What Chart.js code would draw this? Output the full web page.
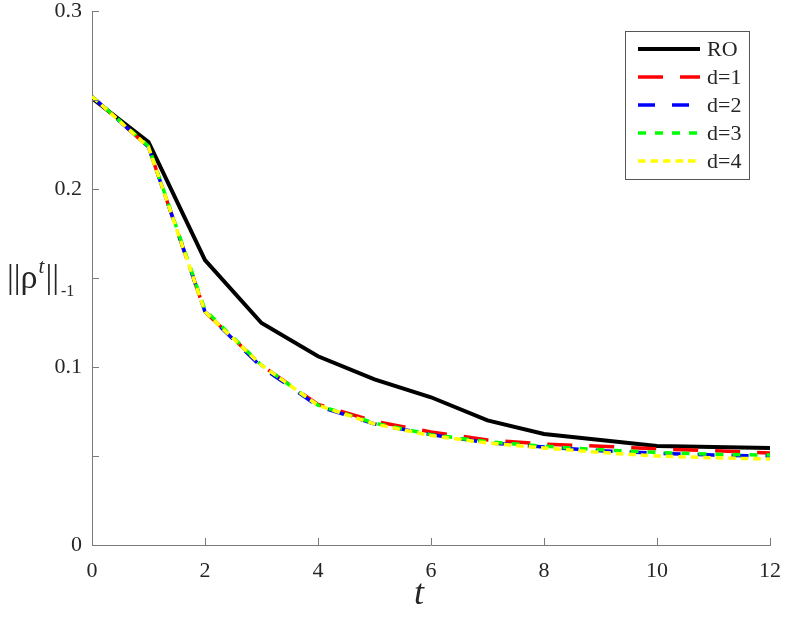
<!DOCTYPE html>
<html>
<head>
<meta charset="utf-8">
<script src="https://cdn.jsdelivr.net/npm/chart.js@4"></script>
<style>
  body { margin: 0; background: #fff; }
</style>
</head>
<body>
<canvas id="normChart" width="787" height="622"></canvas>
<script>
const steps = [0, 1, 2, 3, 4, 5, 6, 7, 8, 9, 10, 11, 12];
const seriesNames = ["RO", "d=1", "d=2", "d=3", "d=4"];
const roValues = [0.251, 0.2264, 0.160, 0.1247, 0.106, 0.093, 0.083, 0.070, 0.0624, 0.059, 0.0556, 0.055, 0.0545];
const d1Values = [0.252, 0.2236, 0.131, 0.101, 0.079, 0.0695, 0.0635, 0.059, 0.0567, 0.0555, 0.054, 0.053, 0.0517];
const d2Values = [0.252, 0.2236, 0.131, 0.100, 0.078, 0.068, 0.062, 0.0575, 0.055, 0.053, 0.0515, 0.0505, 0.050];
const d3Values = [0.252, 0.224, 0.132, 0.101, 0.0785, 0.0685, 0.062, 0.058, 0.0555, 0.0535, 0.052, 0.051, 0.0505];
const d4Values = [0.252, 0.2236, 0.131, 0.101, 0.0785, 0.068, 0.0615, 0.0573, 0.0545, 0.052, 0.050, 0.049, 0.0483];
const xTicks = [0, 2, 4, 6, 8, 10, 12];
const yTickLabels = [0, 0.1, 0.2, 0.3];

const colors = ["#000000", "#ff0000", "#0000ff", "#00ff00", "#ffff00"];
const dashes = [[], [25, 17], [17, 17], [8, 9], [7.5, 5]];
const allValues = [roValues, d1Values, d2Values, d3Values, d4Values];

const serif = "'Liberation Serif', 'Times New Roman', serif";
const textColor = "#262626";
const axisColor = "#7a7a7a";

const datasets = allValues.map((vals, i) => ({
  label: seriesNames[i],
  data: vals.map((v, k) => ({ x: steps[k], y: v })),
  borderColor: colors[i],
  borderDash: dashes[i],
  borderWidth: i === 0 ? 4 : 3.5,
  pointRadius: 0,
  fill: false,
  tension: 0,
  order: 4 - i,
}));

// inward ticks, axis titles and the boxed legend
const decorations = {
  id: "decorations",
  afterDatasetsDraw(chart) {
    const ctx = chart.ctx;
    const xs = chart.scales.x, ys = chart.scales.y;
    const area = chart.chartArea;
    ctx.save();
    ctx.strokeStyle = axisColor;
    ctx.lineWidth = 1;
    ys.ticks.forEach(t => {
      const py = Math.round(ys.getPixelForValue(t.value)) + 0.5;
      ctx.beginPath();
      ctx.moveTo(area.left, py);
      ctx.lineTo(area.left + 7, py);
      ctx.stroke();
    });
    xs.ticks.forEach(t => {
      const px = Math.round(xs.getPixelForValue(t.value)) + 0.5;
      ctx.beginPath();
      ctx.moveTo(px, area.bottom);
      ctx.lineTo(px, area.bottom - 7);
      ctx.stroke();
    });

    // x title
    ctx.fillStyle = textColor;
    ctx.textAlign = "center";
    ctx.textBaseline = "alphabetic";
    ctx.font = "italic 36px " + serif;
    ctx.fillText("t", 419, 604);

    // y title ||rho^t||_-1
    ctx.textAlign = "left";
    let x = 7;
    const base = 288;
    ctx.font = "34px " + serif;
    ctx.fillText("||ρ", x, base);
    x += ctx.measureText("||ρ").width;
    ctx.font = "italic 21px " + serif;
    ctx.fillText("t", x + 1, 273);
    x += ctx.measureText("t").width + 2;
    ctx.font = "34px " + serif;
    ctx.fillText("||", x, base);
    x += ctx.measureText("||").width + 2;
    ctx.font = "16px " + serif;
    ctx.fillText("-1", x, 296);

    // legend
    const box = { left: 625, top: 31, right: 749, bottom: 179 };
    ctx.fillStyle = "#fff";
    ctx.fillRect(box.left, box.top, box.right - box.left, box.bottom - box.top);
    ctx.strokeStyle = "#555";
    ctx.lineWidth = 1;
    ctx.strokeRect(box.left + 0.5, box.top + 0.5, box.right - box.left, box.bottom - box.top);
    chart.data.datasets.forEach((ds, i) => {
      const ry = 49 + i * 28;
      ctx.beginPath();
      ctx.setLineDash(ds.borderDash);
      ctx.strokeStyle = ds.borderColor;
      ctx.lineWidth = ds.borderWidth;
      ctx.moveTo(638, ry);
      ctx.lineTo(700, ry);
      ctx.stroke();
      ctx.setLineDash([]);
      ctx.fillStyle = textColor;
      ctx.font = "22px " + serif;
      ctx.textBaseline = "middle";
      ctx.fillText(ds.label, 707, ry + 1);
    });
    ctx.restore();
  },
};

new Chart(document.getElementById("normChart"), {
  type: "line",
  data: { datasets: datasets },
  options: {
    responsive: false,
    animation: false,
    devicePixelRatio: 1,
    layout: { padding: { top: 11, right: 17, left: 0, bottom: 0 } },
    plugins: {
      legend: { display: false },
      tooltip: { enabled: false },
    },
    scales: {
      x: {
        type: "linear",
        min: 0,
        max: 12,
        afterFit: s => { s.height = 77; s.paddingLeft = 0; s.paddingRight = 0; },
        afterBuildTicks: s => { s.ticks = xTicks.map(v => ({ value: v })); },
        grid: { drawOnChartArea: false, drawTicks: false },
        border: { display: true, color: axisColor, width: 1 },
        ticks: {
          padding: 13,
          color: textColor,
          font: { family: serif, size: 22 },
          maxRotation: 0,
          callback: v => String(v),
        },
      },
      y: {
        min: 0,
        max: 0.3,
        afterFit: s => { s.width = 92; s.paddingTop = 0; s.paddingBottom = 0; },
        grid: { drawOnChartArea: false, drawTicks: false },
        border: { display: true, color: axisColor, width: 1 },
        ticks: {
          stepSize: 0.05,
          padding: 10,
          color: textColor,
          font: { family: serif, size: 22 },
          callback: v => {
            const lab = yTickLabels.find(t => Math.abs(t - v) < 1e-6);
            return lab === undefined ? "" : String(lab);
          },
        },
      },
    },
  },
  plugins: [decorations],
});
</script>
</body>
</html>
